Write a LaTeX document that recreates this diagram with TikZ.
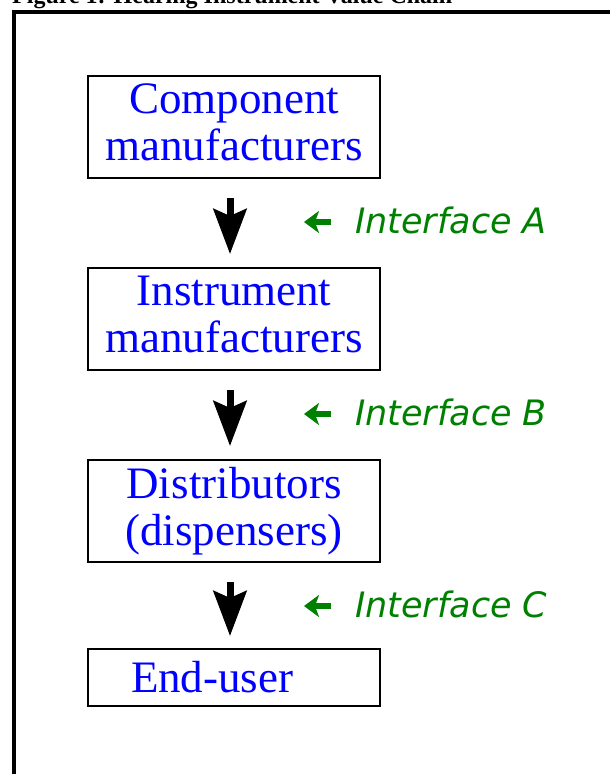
\documentclass[tikz,border=0pt]{standalone}
\usepackage{fontspec}
\setmainfont{Liberation Serif}
\newfontfamily\labelfont{DejaVu Sans}
\usetikzlibrary{arrows.meta}
\definecolor{chainblue}{RGB}{0,0,255}
\definecolor{ifgreen}{RGB}{0,128,0}
\begin{document}
\begin{tikzpicture}[x=1pt,y=-1pt,
  stage/.style={draw, line width=2pt, minimum width=292pt, minimum height=102pt,
    inner sep=0pt, text=chainblue, font=\fontsize{45}{47}\selectfont, align=center},
  flow/.style={line width=7pt, -{Stealth[length=45pt,width=33pt,inset=7pt]}},
  iface/.style={text=ifgreen, font=\labelfont\itshape\fontsize{35}{35}\selectfont,
    anchor=base west, inner sep=0pt},
  ifarrow/.style={draw=ifgreen, fill=ifgreen, line width=6pt,
    -{Stealth[length=15pt,width=22pt,inset=4pt]}}]
\useasboundingbox (0,0) rectangle (610,774);
\fill[white] (0,0) rectangle (610,774);

% caption, partly cut off by the page edge
\node[anchor=base west, inner sep=0pt, font=\bfseries\fontsize{24}{24}\selectfont]
  (title) at (12,3) {Figure 1: Hearing Instrument Value Chain};

% frame
\draw[line width=4pt] (14,780) -- (14,12) -- (616,12);

% stages of the chain
\node[stage] (b1) at (234,127) {Component\\manufacturers\vphantom{p}};
\node[stage] (b2) at (234,319) {Instrument\\manufacturers\vphantom{p}};
\node[stage] (b3) at (234,511) {Distributors\\(dispensers)};
\node[stage, minimum height=57pt] (b4) at (234,677.5)
  {\makebox[292pt][l]{\hspace{43pt}End-user}};

% flow between stages
\draw[flow] ([xshift=-4pt,yshift=-19pt]b1.south) -- ([xshift=-4pt,yshift=13pt]b2.north);
\draw[flow] ([xshift=-4pt,yshift=-19pt]b2.south) -- ([xshift=-4pt,yshift=13pt]b3.north);
\draw[flow] ([xshift=-4pt,yshift=-19pt]b3.south) -- ([xshift=-4pt,yshift=12pt]b4.north);

% interface labels with their pointers
\coordinate (pa0) at (331,222); \coordinate (pa1) at (304,222);
\coordinate (pb0) at (331,414); \coordinate (pb1) at (304,414);
\coordinate (pc0) at (331,606); \coordinate (pc1) at (304,606);
\draw[ifarrow] (pa0) -- (pa1);
\draw[ifarrow] (pb0) -- (pb1);
\draw[ifarrow] (pc0) -- (pc1);
\node[iface] (ia) at (355,233) {Interface A};
\node[iface] (ib) at (355,425) {Interface B};
\node[iface] (ic) at (355,617) {Interface C};
\end{tikzpicture}
\end{document}
